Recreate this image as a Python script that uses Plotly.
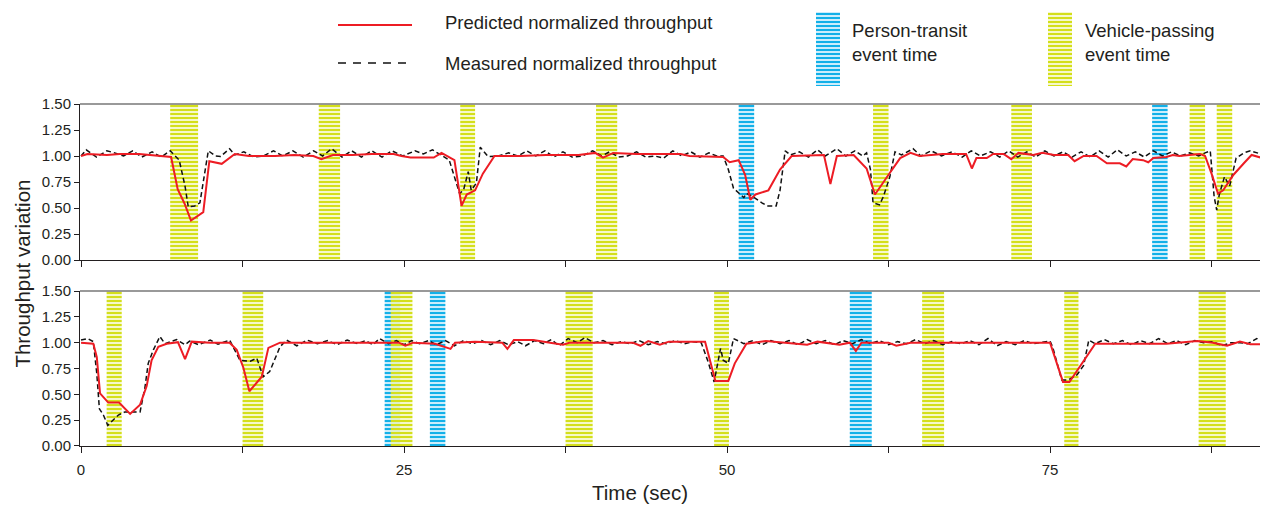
import plotly.graph_objects as go

# ---------------- data ----------------
top_meas_t = [0.0,0.4,1.2,2.0,2.6,3.3,4.0,4.7,5.5,6.2,6.9,7.6,8.05,8.3,8.8,9.2,9.85,10.4,10.8,11.5,11.9,12.6,13.4,14.1,14.9,15.6,16.4,17.2,18.0,18.7,19.4,20.2,20.95,21.7,22.5,23.3,24.05,24.9,25.85,26.5,27.2,27.9,28.5,29.3,29.6,29.97,30.2,30.6,30.9,31.5,32.3,33.1,33.8,34.5,35.2,35.9,36.6,37.3,38.0,38.8,39.6,40.3,40.9,41.6,42.3,43.0,43.7,44.4,45.1,45.8,46.5,47.2,47.9,48.6,49.2,49.7,50.1,50.5,51.3,51.5,52.0,52.7,53.1,53.8,54.1,54.5,54.9,55.6,56.3,57.0,57.6,58.5,59.2,59.9,60.5,60.8,61.1,61.3,61.8,62.1,62.6,63.0,63.5,64.4,65.0,65.8,66.6,67.4,68.2,68.9,69.6,70.4,71.1,71.8,72.5,73.2,73.9,74.6,75.3,76.0,76.7,77.4,78.1,78.8,79.5,80.2,80.9,81.6,82.3,83.0,83.7,84.4,85.1,85.8,86.5,87.0,87.4,87.7,87.9,88.1,88.5,88.9,89.4,90.0,90.5,91.3]
top_meas_v = [1.00,1.06,0.99,1.05,1.03,1.00,1.05,0.99,1.04,0.99,1.05,0.96,0.71,0.51,0.52,0.55,1.05,1.00,0.995,1.07,1.01,1.04,0.99,1.00,1.05,1.00,1.05,0.99,1.05,1.00,1.07,0.99,1.05,0.99,1.05,0.99,1.05,1.00,1.05,1.02,1.06,1.01,0.96,0.64,0.67,0.85,0.67,0.74,1.085,0.995,1.00,1.03,1.00,1.05,1.00,1.05,0.99,1.04,0.99,1.00,1.05,1.00,1.04,0.99,1.00,1.04,0.99,1.00,0.98,1.05,1.00,1.04,0.99,1.03,1.00,1.00,0.87,0.69,0.60,0.64,0.61,0.55,0.52,0.52,0.67,1.05,1.01,1.04,0.99,1.06,1.00,1.07,1.00,1.05,1.00,1.03,0.87,0.55,0.53,0.61,0.80,1.04,1.01,1.07,1.00,1.05,1.00,1.04,0.99,1.05,1.00,1.04,0.99,1.05,0.99,1.04,0.99,1.05,1.00,1.04,0.99,1.04,0.99,1.05,0.99,1.06,1.00,1.04,0.99,1.05,1.00,1.04,1.00,1.03,1.00,1.03,1.05,0.61,0.48,0.63,0.80,0.71,0.98,1.03,1.05,1.02]

top_pred_t = [0,0.5,2,3,4.5,5.5,6.37,6.97,7.48,8.0,8.51,9.46,9.93,10.89,11.9,13,15,16.5,17.98,18.6,19.5,21,22.5,24.2,24.8,25.5,27.3,27.9,28.9,29.45,29.85,30.5,31.1,32.0,34,36,38.5,39.8,40.4,41.2,43,45,46.4,47.1,49.7,50.2,50.9,51.4,51.8,52.2,53.2,54.1,55.0,57.5,58.0,58.5,59.8,60.8,61.45,62.5,63.4,64.2,64.9,66.7,68.5,68.95,69.3,70.1,70.6,71.4,72.0,72.55,73.7,74.4,75.3,76.4,76.9,77.6,78.6,79.4,80.4,80.9,81.4,82.2,82.6,83.0,84.0,84.5,85.0,86.6,87.0,87.5,88.0,88.4,89.2,90.0,90.6,91.3]
top_pred_v = [1.0,1.02,1.01,1.02,1.02,1.01,0.995,0.99,0.68,0.546,0.38,0.46,0.95,0.925,1.02,1.0,1.0,1.01,1.0,0.97,1.01,1.01,1.02,1.02,1.0,0.985,0.985,1.03,0.96,0.52,0.63,0.67,0.83,1.0,1.0,1.01,1.01,1.03,0.985,1.03,1.02,1.02,1.02,1.0,0.99,0.94,0.96,0.82,0.58,0.63,0.67,0.87,1.0,1.01,0.73,1.0,1.01,0.88,0.63,0.82,0.98,1.03,1.0,1.02,1.02,0.88,0.98,0.98,1.02,1.02,0.97,1.03,1.01,1.03,1.01,1.01,0.95,1.0,1.0,0.93,0.93,0.9,0.97,0.96,0.94,0.98,0.99,1.01,1.0,1.02,1.0,0.83,0.64,0.67,0.82,0.93,1.01,0.985]

bot_meas_t = [0,0.5,0.95,1.22,1.42,1.73,2.07,2.89,3.4,4.57,4.95,5.2,5.6,6.1,6.5,7.4,8.05,8.4,9.1,10.0,10.6,11.5,12.3,13.1,13.6,14.1,14.6,15.4,15.9,16.7,17.5,18.3,19.1,19.8,20.6,21.4,22.0,22.6,23.1,23.8,24.4,25.0,25.6,26.2,26.9,27.5,28.2,28.9,29.6,30.3,31.0,31.7,32.4,33.1,33.8,34.4,35.1,35.8,36.4,37.0,37.7,38.4,39.0,39.7,40.4,41.1,41.8,42.5,43.2,43.9,44.6,45.3,46.0,46.7,47.4,48.0,48.55,49.0,49.5,49.7,50.1,50.5,51.3,52.0,52.7,53.4,54.1,54.8,55.5,56.2,56.9,57.6,58.3,59.0,59.7,60.4,61.1,61.8,62.5,63.2,63.9,64.6,65.3,66.0,66.7,67.4,68.1,68.8,69.5,70.2,70.9,71.6,72.3,73.0,73.7,74.4,75.0,75.2,75.9,76.4,77.1,77.6,78.0,78.5,79.2,79.9,80.6,81.3,82.0,82.7,83.4,84.1,84.8,85.5,86.2,86.9,87.6,88.3,89.0,89.7,90.3,91.0,91.3]
bot_meas_v = [1.025,1.04,1.01,0.70,0.36,0.30,0.20,0.30,0.33,0.33,0.57,0.80,0.93,1.06,0.99,1.03,0.98,1.015,0.98,1.025,0.985,1.025,0.83,0.82,0.85,0.67,0.72,0.96,1.025,0.97,1.025,0.99,1.02,0.98,1.025,0.99,1.02,0.98,1.04,0.99,1.02,0.98,1.02,0.99,1.02,0.98,1.02,0.97,1.02,0.99,1.02,0.98,1.02,0.98,1.01,0.97,1.02,0.99,1.03,0.97,1.04,1.0,1.05,1.0,1.02,0.98,1.01,0.99,1.02,0.98,1.01,0.99,1.02,0.99,1.01,1.0,0.81,0.62,0.945,0.83,0.80,1.04,0.99,1.02,0.98,1.02,0.99,1.02,0.98,1.03,0.99,1.02,0.98,1.02,0.99,1.03,0.99,1.02,0.98,1.01,0.99,1.03,0.99,1.02,0.98,1.01,0.99,1.02,0.98,1.04,0.97,1.01,0.98,1.02,0.99,1.0,1.015,0.96,0.64,0.64,0.69,0.78,1.025,0.99,1.03,0.99,1.02,0.98,1.02,0.99,1.04,0.99,1.02,0.98,1.02,1.0,1.01,0.97,1.0,1.0,0.99,1.04,1.02]

bot_pred_t = [0,0.95,1.22,1.47,2.11,2.94,3.8,4.57,5.08,5.46,5.98,6.63,7.5,8.05,8.57,10,11.5,12.05,12.56,13.03,13.99,14.5,15.4,17,19,21,23,24.6,25.1,25.7,27.4,28.6,28.95,30.5,32.6,33.0,33.5,35.0,36.3,37.3,37.8,40,42.7,43.3,43.9,44.8,45.5,48.3,49.1,50.1,50.6,51.5,53.0,54.5,56.2,57.0,58.0,58.7,59.5,59.97,60.4,62.5,63.1,64.2,66,68,70,72,75.0,76.0,76.5,78.5,80,82,84,86.4,87.6,88.7,89.7,90.5,91.3]
bot_pred_v = [1.0,0.99,0.86,0.51,0.42,0.42,0.31,0.40,0.58,0.83,0.96,0.99,1.005,0.84,1.01,1.0,1.0,0.93,0.76,0.53,0.67,0.95,1.0,1.0,1.0,0.995,1.0,1.0,0.97,1.0,0.99,0.94,1.0,1.01,1.0,0.94,1.025,1.025,1.0,0.98,1.0,1.0,1.0,0.97,1.015,0.98,1.01,1.01,0.63,0.63,0.80,0.99,1.015,1.0,0.98,1.01,0.99,0.98,1.0,0.92,1.0,1.0,0.97,1.0,1.0,1.0,1.0,1.0,1.0,0.62,0.62,0.99,0.99,0.99,0.99,1.015,1.0,0.97,1.01,0.985,0.985]

top_vehicle_start = [6.9,18.4,29.35,39.86,61.3,72.0,85.8,87.9]
top_vehicle_end   = [9.06,20.05,30.5,41.5,62.5,73.6,87.0,89.1]
top_person_start  = [50.9,82.9]
top_person_end    = [52.1,84.1]
bot_vehicle_start = [1.98,12.5,23.97,37.5,49.0,65.1,76.1,86.5]
bot_vehicle_end   = [3.15,14.1,25.65,39.6,50.15,66.8,77.2,88.6]
bot_person_start  = [23.5,27.0,59.5]
bot_person_end    = [24.7,28.2,61.2]

x_tickvals = [0,12.5,25,37.5,50,62.5,75,87.5]
x_ticktext = ['0','','25','','50','','75','']
y_tickvals = [0,0.25,0.5,0.75,1.0,1.25,1.5]

legend_labels = ['Predicted normalized throughput','Measured normalized throughput',
                 'Person-transit<br>event time','Vehicle-passing<br>event time']

# ---------------- styles ----------------
FONT = 'Liberation Sans, Arial, Helvetica, sans-serif'
TXT = '#231f20'
RED = '#ed1c24'
YEL_FG, YEL_BG = '#d4df1a', 'rgba(236,241,160,0.55)'
BLU_FG, BLU_BG = '#12b0e8', 'rgba(170,225,248,0.6)'
YMAX = 1.5

fig = go.Figure()

def event_bars(starts, ends, fg, bg, xa, ya):
    centers = [(a + b) / 2 for a, b in zip(starts, ends)]
    widths = [b - a for a, b in zip(starts, ends)]
    fig.add_trace(go.Bar(
        x=centers, y=[YMAX] * len(centers), base=0, width=widths,
        xaxis=xa, yaxis=ya, showlegend=False, hoverinfo='skip',
        marker=dict(color=bg, line=dict(width=0),
                    pattern=dict(shape='-', fgcolor=fg, bgcolor=bg, size=4,
                                 solidity=0.5, fillmode='replace'))))

# top panel
event_bars(top_person_start, top_person_end, BLU_FG, BLU_BG, 'x', 'y')
event_bars(top_vehicle_start, top_vehicle_end, YEL_FG, YEL_BG, 'x', 'y')
# bottom panel
event_bars(bot_person_start, bot_person_end, BLU_FG, BLU_BG, 'x2', 'y2')
event_bars(bot_vehicle_start, bot_vehicle_end, YEL_FG, YEL_BG, 'x2', 'y2')

DASH = '5px,3px'
for xa, ya, mt, mv, pt, pv in [('x', 'y', top_meas_t, top_meas_v, top_pred_t, top_pred_v),
                               ('x2', 'y2', bot_meas_t, bot_meas_v, bot_pred_t, bot_pred_v)]:
    fig.add_trace(go.Scatter(x=mt, y=mv, mode='lines', xaxis=xa, yaxis=ya, showlegend=False,
                             line=dict(color='#111111', width=1.5, dash=DASH)))
    fig.add_trace(go.Scatter(x=pt, y=pv, mode='lines', xaxis=xa, yaxis=ya, showlegend=False,
                             line=dict(color=RED, width=2)))

# ---------------- legend (drawn in a pixel-like helper axis) ----------------
fig.add_trace(go.Scatter(x=[338, 412], y=[25, 25], mode='lines', xaxis='x3', yaxis='y3',
                         showlegend=False, hoverinfo='skip', line=dict(color=RED, width=2)))
fig.add_trace(go.Scatter(x=[338, 412], y=[63, 63], mode='lines', xaxis='x3', yaxis='y3',
                         showlegend=False, hoverinfo='skip',
                         line=dict(color='#111111', width=1.5, dash='8px,7px')))
for cx, fg, bg in [(828, BLU_FG, BLU_BG), (1060, YEL_FG, YEL_BG)]:
    fig.add_trace(go.Bar(x=[cx], y=[74], base=12, width=24, xaxis='x3', yaxis='y3',
                         showlegend=False, hoverinfo='skip',
                         marker=dict(color=bg, line=dict(width=0),
                                     pattern=dict(shape='-', fgcolor=fg, bgcolor=bg, size=4,
                                                  solidity=0.5, fillmode='replace'))))
for (lx, ly), txt in zip([(443, 22), (443, 63), (850, 42), (1083, 42)], legend_labels):
    fig.add_annotation(x=lx, y=ly, xref='x3', yref='y3', text=txt, showarrow=False,
                       xanchor='left', yanchor='middle', align='left',
                       font=dict(family=FONT, size=18.5, color=TXT))

# ---------------- axes ----------------
TOP_DOM = [0.417, 0.7668]
BOT_DOM = [0.0, 0.3475]
XRANGE = [-0.08, 91.25]

xcommon = dict(range=XRANGE, tickvals=x_tickvals, ticktext=x_ticktext, ticks='outside',
               ticklen=6, tickcolor='#231f20', showline=True, linecolor='#231f20', linewidth=1,
               showgrid=False, zeroline=False, automargin=False,
               tickfont=dict(family=FONT, size=15, color=TXT))
ycommon = dict(range=[0, YMAX], tickvals=y_tickvals, tickformat='.2f', ticks='outside',
               ticklen=5, tickcolor='#231f20', showline=True, linecolor='#231f20', linewidth=1,
               showgrid=False, zeroline=False, automargin=False,
               tickfont=dict(family=FONT, size=15, color=TXT))

fig.update_layout(
    width=1261, height=505,
    margin=dict(l=80, r=1, t=0, b=59, pad=0, autoexpand=False),
    paper_bgcolor='white', plot_bgcolor='rgba(0,0,0,0)',
    barmode='overlay', showlegend=False,
    xaxis=dict(xcommon, anchor='y', showticklabels=False),
    yaxis=dict(ycommon, domain=TOP_DOM, anchor='x'),
    xaxis2=dict(xcommon, anchor='y2', ticklabelstandoff=4),
    yaxis2=dict(ycommon, domain=BOT_DOM, anchor='x2'),
    xaxis3=dict(domain=[0, 1], range=[80, 1260], visible=False, anchor='y3', automargin=False),
    yaxis3=dict(domain=[0.7668, 1.0], range=[104, 0], visible=False, anchor='x3', automargin=False),
)

# top frame lines of both panels
for d in (TOP_DOM, BOT_DOM):
    fig.add_shape(type='line', xref='paper', yref='paper', x0=0, x1=1, y0=d[1], y1=d[1],
                  line=dict(color='#777777', width=1.5))

fig.add_annotation(x=0.4746, y=-0.105, xref='paper', yref='paper', text='Time (sec)',
                   showarrow=False, xanchor='center', yanchor='middle',
                   font=dict(family=FONT, size=20.5, color=TXT))
fig.add_annotation(x=-0.049, y=0.387, xref='paper', yref='paper', text='Throughput variation',
                   showarrow=False, textangle=-90, xanchor='center', yanchor='middle',
                   font=dict(family=FONT, size=20.5, color=TXT))

fig.write_html('out.html', config={'displayModeBar': False},
               post_script="document.body.style.margin='0px';")
